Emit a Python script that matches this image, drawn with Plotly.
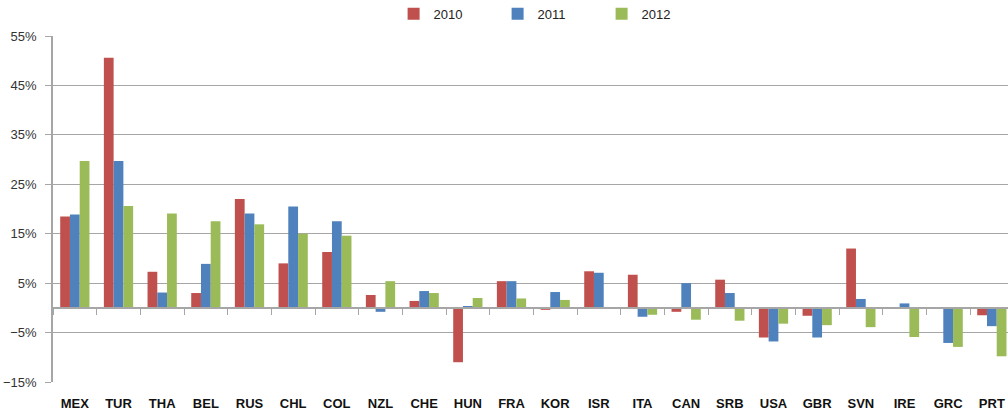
import plotly.graph_objects as go

countries = ["MEX", "TUR", "THA", "BEL", "RUS", "CHL", "COL", "NZL", "CHE", "HUN", "FRA",
             "KOR", "ISR", "ITA", "CAN", "SRB", "USA", "GBR", "SVN", "IRE", "GRC", "PRT"]
v2010 = [18.5, 50.6, 7.3, 3.0, 22.0, 9.0, 11.3, 2.6, 1.4, -11.0, 5.4,
         -0.4, 7.4, 6.7, -0.8, 5.7, -6.0, -1.6, 12.0, 0.0, 0.0, -1.5]
v2011 = [18.9, 29.7, 3.1, 8.9, 19.1, 20.5, 17.5, -0.8, 3.4, 0.2, 5.4,
         3.2, 7.1, -1.8, 5.0, 3.0, -6.8, -6.0, 1.8, 0.9, -7.1, -3.7]
v2012 = [29.7, 20.6, 19.1, 17.5, 16.9, 15.0, 14.6, 5.4, 3.0, 2.0, 1.9,
         1.6, 0.1, -1.4, -2.4, -2.6, -3.2, -3.5, -3.9, -5.9, -7.9, -9.8]
series = [("2010", v2010, "#C0504D"), ("2011", v2011, "#4F81BD"), ("2012", v2012, "#9BBB59")]

FONT = "Liberation Sans"
GRID = "#A6A6A6"

fig = go.Figure()
for name, vals, col in series:
    fig.add_trace(go.Bar(x=countries, y=vals, name=name, marker=dict(color=col, line=dict(width=0))))

# invisible helper trace so the zero-crossing category axis renders
fig.add_trace(go.Scatter(x=countries, y=[0] * len(countries), xaxis="x2", mode="markers",
                         marker=dict(opacity=0), showlegend=False, hoverinfo="skip"))

xr = [-0.5, 21.37]
fig.update_layout(
    width=1008, height=416,
    margin=dict(l=53, r=0, t=36, b=34, autoexpand=False),
    paper_bgcolor="white", plot_bgcolor="white",
    barmode="group", bargap=0.33, bargroupgap=0,
    font=dict(family=FONT, size=13, color="#222"),
    legend=dict(orientation="h", x=0.52, xanchor="center", y=1.064, yanchor="middle",
                font=dict(size=13, color="#222"), itemwidth=30, entrywidth=59,
                bgcolor="rgba(0,0,0,0)"),
    xaxis=dict(type="category", categoryorder="array", categoryarray=countries, range=xr,
               showgrid=False, showline=False, ticks="", zeroline=False,
               tickfont=dict(family=FONT, size=13, color="#111", weight="bold"),
               ticklabelstandoff=12),
    xaxis2=dict(type="category", categoryorder="array", categoryarray=countries, range=xr,
                overlaying="x", anchor="free", position=15 / 70, side="bottom",
                showline=True, linecolor=GRID, linewidth=1.5,
                ticks="outside", tickson="boundaries", ticklen=6, tickcolor=GRID, tickwidth=1.3,
                showticklabels=False, showgrid=False, zeroline=False),
    yaxis=dict(range=[-15, 55], tick0=-15, dtick=10, ticksuffix="%",
               showgrid=True, gridcolor=GRID, gridwidth=1.3, zeroline=False,
               showline=True, linecolor=GRID, linewidth=1.5,
               ticks="outside", ticklen=6, tickcolor=GRID, tickwidth=1.3,
               tickfont=dict(family=FONT, size=13, color="#333"), ticklabelstandoff=6),
)

fig.write_html("out.html", config={"displayModeBar": False},
               post_script="document.body.style.margin='0';document.body.style.overflow='hidden';")
